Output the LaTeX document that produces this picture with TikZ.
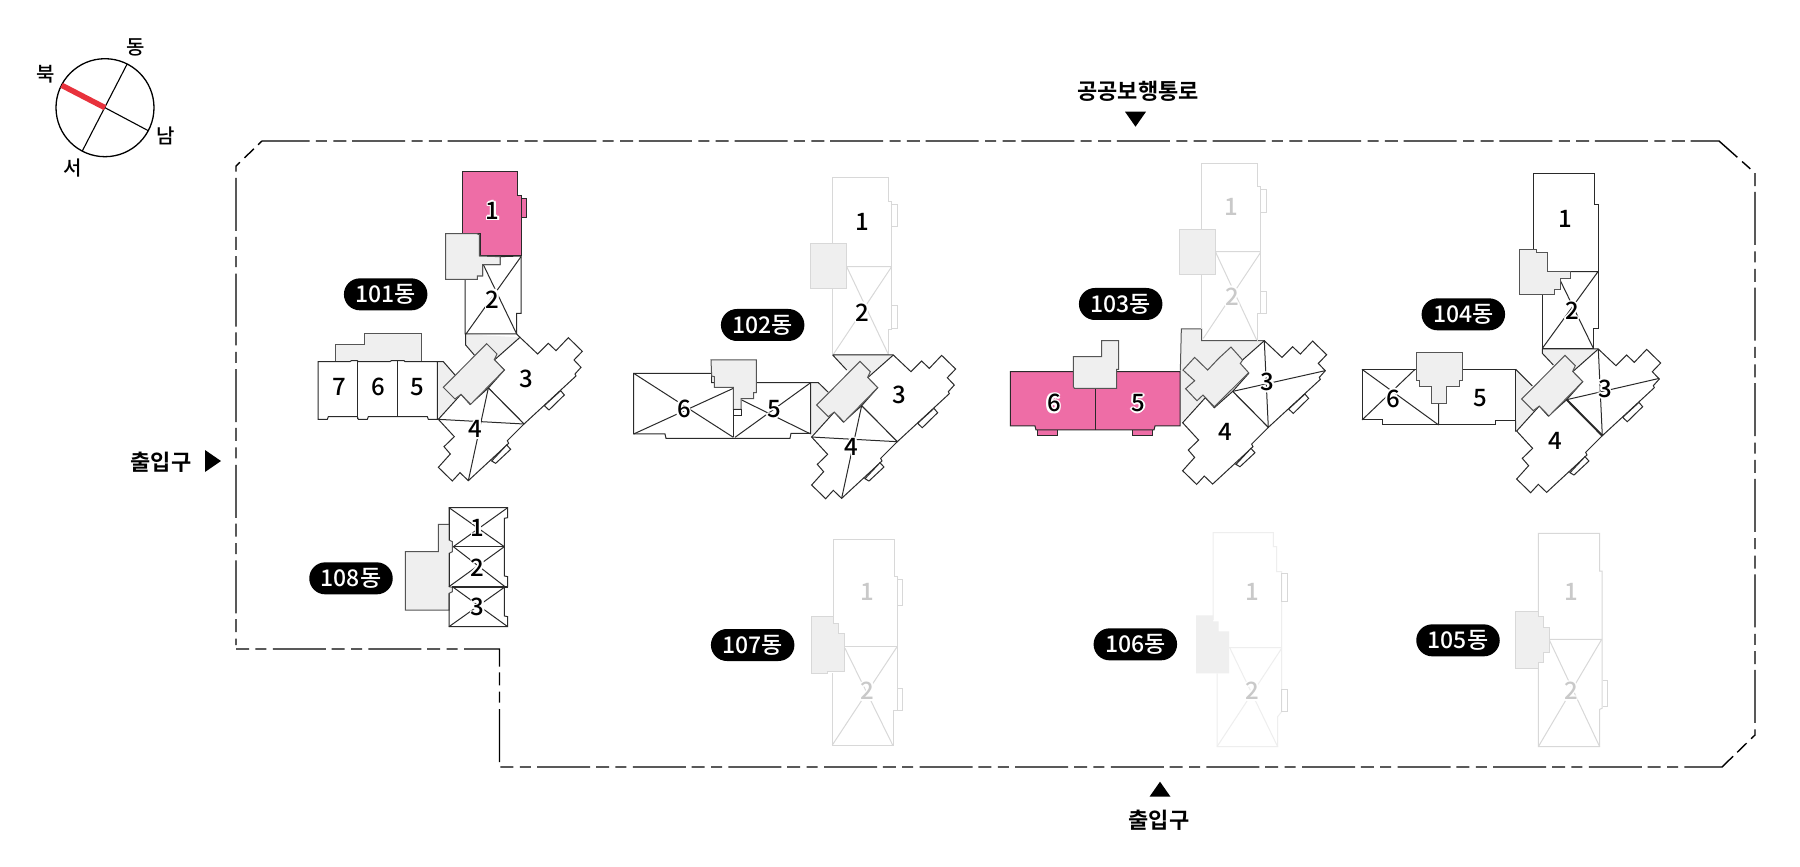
\documentclass[tikz,border=0pt]{standalone}
\usepackage{fontspec}
\newfontfamily\kr{Noto Sans CJK KR Medium}
\newfontfamily\krb{Noto Sans CJK KR Bold}
\definecolor{dkc}{HTML}{2A2A2A}
\definecolor{ltc}{HTML}{D8D8D8}
\definecolor{vlc}{HTML}{EEEEEE}
\definecolor{coreg}{HTML}{EFEFEF}
\definecolor{coreo}{HTML}{555555}
\definecolor{pinkb}{HTML}{EE6DA6}
\definecolor{numg}{HTML}{C9C9C9}
\definecolor{redn}{HTML}{E8323C}
\newcommand\ofs[3]{\rlap{\kern#1pt\raisebox{#2pt}{\color{white}#3}}}
\newcommand\halo[1]{\leavevmode\ofs{1.6}{0}{#1}\ofs{-1.6}{0}{#1}\ofs{0}{1.6}{#1}\ofs{0}{-1.6}{#1}\ofs{1.2}{1.2}{#1}\ofs{-1.2}{1.2}{#1}\ofs{1.2}{-1.2}{#1}\ofs{-1.2}{-1.2}{#1}#1}
\tikzset{
 dk/.style={draw=dkc,line width=1pt},
 lt/.style={draw=ltc,line width=1pt},
 vl/.style={draw=vlc,line width=1pt},
 coregray/.style={fill=coreg,draw=coreo,line width=1pt},
 coreltg/.style={fill=coreg,draw=ltc,line width=1pt},
 gr/.style={fill=coreg},
 numb/.style={inner sep=0pt,text=black,font=\kr\fontsize{24}{24}\selectfont},
 numl/.style={numb,text=numg},
 pill/.style={fill=black,text=white,rounded corners=16pt,minimum width=83.5pt,minimum height=32pt,inner sep=0pt,font=\kr\fontsize{23}{23}\selectfont},
 lab/.style={inner sep=0pt,text=black,font=\krb\fontsize{22}{22}\selectfont},
 comp/.style={inner sep=0pt,text=black,font=\kr\fontsize{20}{20}\selectfont},
 bound/.style={draw=black,line width=1.4pt,dash pattern=on 13pt off 6.4pt on 11pt off 6.4pt on 53pt off 5.8pt},
}
\newcommand\wingsA{%
 \draw[dk,fill=white] (660,562)--(713,612)--(745,580)--(768,602)--(805,563)--(847,604)--(822,630)--(843,652)--(825,672)--(828,678)--(672,822)--(565,714)--(613,660)--(583,630)--cycle;
 \draw[dk,fill=white] (733,767)--(782,722)--(793,735)--(747,780)--cycle;
 \draw[dk,fill=white] (415,808)--(483,733)--(510,763)--(565,714)--(672,822)--(622,872)--(626,880)--(505,992)--(480,968)--(457,993)--(415,952)--(451,912)--(432,890)--(463,860)--cycle;
 \draw[dk,fill=white] (575,933)--(620,885)--(632,898)--(587,940)--cycle;
}
\newcommand\coreA{\draw[coregray] (560,581)--(591,612)--(583,629)--(613,660)--(512,763)--(483,733)--(465,747)--(430,712)--cycle;}
\begin{document}
\begin{tikzpicture}[x=1pt,y=-1pt]
\useasboundingbox (0,0) rectangle (1800,867);
\fill[white] (0,0) rectangle (1800,867);
% compass
\draw[line width=1.3pt] (105,107.7) circle (49);
\draw[line width=1.1pt] (127,64.3)--(82.3,151);
\draw[line width=1.1pt] (105,107.7)--(148.3,130.7);
\draw[redn,line width=5.5pt] (61.7,85.3)--(105,107.7);
\node[comp] (cE) at (136,47) {동};
\node[comp] (cN) at (45.7,74) {북};
\node[comp] (cS) at (165.7,136) {남};
\node[comp] (cW) at (72.7,168) {서};
% boundary
\draw[bound] (236,649)--(499.5,649)--(499.5,767)--(1722,767)--(1755,735)--(1755,173)--(1719,141)--(262,141)--(236,166)--(236,645);
\fill (1125,111.7)--(1146,111.7)--(1135.5,126.7)--cycle;
\fill (1149.5,796.7)--(1170.5,796.7)--(1160,781.7)--cycle;
\fill (205,450)--(221,461)--(205,472)--cycle;
\node[lab] (t1) at (1138,91) {공공보행통로};
\node[lab] (t2) at (1159,820) {출입구};
\node[lab] (t3) at (161,462) {출입구};
%
% 101
\begin{scope}[shift={(300,150)},scale=0.33333]
 \fill[gr] (497,553)--(660,562)--(590,640)--(540,640)--(497,585)--cycle;
 \fill[gr] (413,635)--(430,635)--(470,680)--(470,760)--(415,808)--cycle;
 \draw[coregray] (106,635)--(106,585)--(193,585)--(193,550)--(365,550)--(365,635);
 \draw[dk,fill=white] (495,388)--(495,552)--(650,552)--(650,490)--(663,490)--(663,318)--(600,320)--(600,344)--(548,344)--(548,378)--(532,378)--(532,388)--cycle;
 \draw[dk] (663,320)--(498,552) (550,344)--(650,552);
 \draw[dk] (497,552)--(497,585)--(523,615) (650,552)--(660,562);
 \draw[dk,fill=pinkb] (663,145)--(680,145)--(680,203)--(663,203)--cycle;
 \draw[dk,fill=pinkb] (488,63)--(651,63)--(651,135)--(663,135)--(663,318)--(540,318)--(540,250)--(488,250)--cycle;
 \draw[coregray] (437,251)--(530,251)--(538,254)--(538,318)--(600,320)--(600,344)--(548,344)--(548,378)--(532,378)--(532,388)--(437,388)--cycle;
 \draw[dk,fill=white] (54,635)--(150,635)--(154,632)--(172,632)--(175,635)--(270,635)--(274,632)--(293,632)--(312,632)--(315,635)--(412,635)--(412,808)--(385,808)--(382,800)--(205,800)--(202,808)--(175,808)--(172,800)--(85,800)--(82,808)--(54,808)--cycle;
 \draw[dk] (173,632)--(173,808) (293,632)--(293,800);
 \draw[dk] (412,635)--(430,635)--(465,675) (412,808)--(415,808);
 \wingsA
 \draw[dk] (415,808)--(672,822) (565,714)--(505,992);
 \coreA
 \node[numb] (a1) at (578,182) {\halo{1}};
 \node[numb] (a2) at (578,448) {\halo{2}};
 \node[numb] (a3) at (680,688) {\halo{3}};
 \node[numb] (a4) at (527,838) {\halo{4}};
 \node[numb] (a5) at (353,712) {\halo{5}};
 \node[numb] (a6) at (235,712) {\halo{6}};
 \node[numb] (a7) at (117,712) {\halo{7}};
 \node[pill] (pa) at (257,433) {101동};
\end{scope}
% 102 upper + left
\begin{scope}[shift={(620,160)},scale=0.33333]
 \fill[gr] (638,585)--(820,585)--(745,660)--(690,640)--cycle;
 \fill[gr] (572,668)--(595,668)--(630,700)--(640,770)--(572,828)--cycle;
 \draw[lt,fill=white] (638,52)--(805,52)--(805,125)--(815,125)--(815,510)--(805,510)--(805,583)--(638,583)--cycle;
 \draw[lt] (815,132)--(833,132)--(833,200)--(815,200) (815,437)--(833,437)--(833,505)--(815,505);
 \draw[lt] (680,320)--(815,320) (815,320)--(640,583) (680,320)--(805,583);
 \draw[coreltg] (572,250) rectangle (680,386);
 \draw[dk] (638,585)--(820,585) (638,585)--(680,630);
 \draw[dk,fill=white] (41,640)--(275,640)--(275,668)--(572,668)--(572,820)--(513,820)--(510,835)--(138,835)--(135,822)--(41,822)--cycle;
 \draw[dk] (340,685)--(340,832);
 \draw[dk] (41,640)--(340,832) (41,822)--(340,685) (572,668)--(345,832) (572,822)--(365,720);
 \draw[dk] (572,668)--(595,668)--(625,697);
 \draw[coregray] (273,600)--(409,600)--(409,698)--(401,698)--(401,716)--(363,716)--(363,748)--(340,748)--(340,682)--(283,682)--(283,650)--(275,648)--cycle;
 \draw[dk,fill=white] (340,748) rectangle (363,768);
 \node[numb] (b1) at (727,187) {\halo{1}};
 \node[numb] (b2) at (727,457) {\halo{2}};
 \node[numb] (b5) at (463,748) {\halo{5}};
 \node[numb] (b6) at (192,748) {\halo{6}};
 \node[pill] (pb) at (428,495) {102동};
\end{scope}
\begin{scope}[shift={(673.3,167.7)},scale=0.33333]
 \wingsA
 \draw[dk] (415,808)--(672,822) (565,714)--(505,992);
 \coreA
 \node[numb] (b3) at (678,681) {\halo{3}};
 \node[numb] (b4) at (535,839) {\halo{4}};
\end{scope}
% 103
\begin{scope}[shift={(1000,150)},scale=0.33333]
 \fill[gr] (541,662)--(544,537)--(605,537)--(605,572)--(793,572)--(541,818)--cycle;
 \draw[coreo,line width=1pt] (541,662)--(544,537)--(605,537)--(605,572)--(793,572);
 \draw[lt] (605,537)--(605,40)--(773,40)--(773,110)--(782,110)--(782,492)--(772,492)--(772,572);
 \draw[lt] (782,118)--(798,118)--(798,187)--(782,187) (782,425)--(798,425)--(798,490)--(782,490);
 \draw[lt] (647,305)--(782,305) (782,307)--(610,565) (647,307)--(770,570);
 \draw[coreltg] (538,237) rectangle (647,373);
 \draw[dk,fill=pinkb] (112,840)--(173,840)--(173,857)--(112,857)--cycle;
 \draw[dk,fill=pinkb] (397,840)--(458,840)--(458,857)--(397,857)--cycle;
 \draw[dk,fill=pinkb] (31,665)--(540,665)--(540,828)--(465,828)--(462,840)--(108,840)--(105,828)--(31,828)--cycle;
 \draw[dk] (285,715)--(285,840);
 \draw[coregray] (220,620)--(305,620)--(305,572)--(356,572)--(356,658)--(350,658)--(350,715)--(223,715)--(220,710)--cycle;
\end{scope}
\begin{scope}[shift={(1044.3,153.4)},scale=0.33333]
 \wingsA
 \draw[dk] (660,562)--(672,822) (842,652)--(565,714);
 \draw[coregray] (560,581)--(595,620)--(588,630)--(613,658)--(510,760)--(476,725)--(458,742)--(424,706)--(451,682)--(416,650)--(451,612)--(490,650)--(523,615)--cycle;
\end{scope}
\begin{scope}[shift={(1000,150)},scale=0.33333]
 \node[numl] (c1) at (693,170) {\halo{1}};
 \node[numl] (c2) at (697,440) {\halo{2}};
 \node[numb] (c3) at (803,697) {\halo{3}};
 \node[numb] (c4) at (675,847) {\halo{4}};
 \node[numb] (c5) at (415,760) {\halo{5}};
 \node[numb] (c6) at (162,760) {\halo{6}};
 \node[pill] (pc) at (362,462) {103동};
\end{scope}
% 104
\begin{scope}[shift={(1350,150)},scale=0.33333]
 \fill[gr] (577,597)--(745,597)--(672,670)--(645,615)--(610,645)--(577,610)--cycle;
 \fill[gr] (497,658)--(545,708)--(515,745)--(555,787)--(497,845)--cycle;
 \draw[dk,fill=white] (551,70)--(733,70)--(733,162)--(744,162)--(744,535)--(730,535)--(730,597)--(577,597)--(577,433)--(509,433)--(509,297)--(551,297)--cycle;
 \draw[dk] (593,365)--(744,365) (744,365)--(577,595) (630,390)--(730,595);
 \draw[dk] (577,597)--(745,597) (577,597)--(577,610)--(610,645);
 \draw[dk,fill=white] (36,658)--(497,658)--(497,812)--(437,812)--(437,825)--(97,825)--(97,810)--(36,810)--cycle;
 \draw[dk] (266,762)--(266,825) (36,658)--(266,825) (36,810)--(195,658);
 \draw[dk] (497,658)--(547,708) (497,812)--(497,845);
 \draw[coregray] (199,608)--(336,608)--(336,693)--(327,693)--(327,710)--(290,710)--(290,760)--(243,760)--(243,710)--(207,710)--(207,693)--(199,693)--cycle;
 \draw[coregray] (509,297)--(558,297)--(558,307)--(593,307)--(593,365)--(660,365)--(660,387)--(630,387)--(630,420)--(612,420)--(612,433)--(509,433)--cycle;
\end{scope}
\begin{scope}[shift={(1378.3,161.7)},scale=0.33333]
 \wingsA
 \draw[dk] (660,562)--(672,822) (843,650)--(565,714);
 \draw[draw=dkc,line width=2pt] (565,714)--(672,822);
 \coreA
\end{scope}
\begin{scope}[shift={(1350,150)},scale=0.33333]
 \node[numb] (d1) at (645,207) {\halo{1}};
 \node[numb] (d2) at (667,483) {\halo{2}};
 \node[numb] (d3) at (765,717) {\halo{3}};
 \node[numb] (d4) at (616,873) {\halo{4}};
 \node[numb] (d5) at (392,745) {\halo{5}};
 \node[numb] (d6) at (130,747) {\halo{6}};
 \node[pill] (pd) at (340,493) {104동};
\end{scope}
% 108
\begin{scope}[shift={(290,490)},scale=0.33333]
 \draw[coregray] (477,360)--(346,360)--(346,185)--(445,185)--(445,103)--(477,103)--(477,150)--(487,155)--(487,185)--(477,190)--(477,290)--(487,292)--(487,305)--(477,310)--cycle;
 \draw[dk] (477,103)--(477,53)--(653,53)--(653,83)--(643,85)--(643,258)--(653,260)--(653,290)--(643,290)--(643,378)--(653,380)--(653,410)--(477,410)--(477,310);
 \draw[dk] (477,190)--(477,290) (477,53)--(477,150);
 \draw[dk,line width=1.4pt] (490,170)--(643,170) (487,291)--(653,291);
 \draw[dk] (477,53)--(643,170) (653,53)--(490,170) (490,170)--(645,290) (643,170)--(477,290) (490,292)--(653,410) (643,292)--(477,410);
 \node[numb] (h1) at (563,115) {\halo{1}};
 \node[numb] (h2) at (563,232) {\halo{2}};
 \node[numb] (h3) at (563,352) {\halo{3}};
 \node[pill] (ph) at (183,265) {108동};
\end{scope}
% 107
\begin{scope}[shift={(700,520)},scale=0.33333]
 \draw[lt] (400,290)--(400,58)--(584,58)--(584,170)--(592,170)--(592,570)--(580,570)--(580,675)--(397,675)--(397,460);
 \draw[lt] (592,178)--(608,178)--(608,257)--(592,257) (592,505)--(608,505)--(608,570)--(592,570);
 \draw[lt,line width=1.4pt] (433,380)--(592,380);
 \draw[lt] (590,382)--(397,675) (435,385)--(578,675);
 \draw[coreltg] (333,290)--(400,290)--(400,310)--(415,310)--(415,340)--(433,340)--(433,455)--(382,455)--(382,460)--(333,460)--cycle;
 \node[numl] (g1) at (503,217) {\halo{1}};
 \node[numl] (g2) at (503,513) {\halo{2}};
 \node[pill] (pg) at (158,375) {107동};
\end{scope}
% 106
\begin{scope}[shift={(1090,520)},scale=0.33333]
 \draw[vl] (369,300)--(369,38)--(550,38)--(550,80)--(560,80)--(560,155)--(575,155)--(575,575)--(563,590)--(563,680)--(381,680)--(381,460);
 \draw[ltc,line width=1pt] (575,160)--(591,160)--(591,243)--(575,243)--cycle (575,508)--(591,508)--(591,575)--(575,575)--cycle;
 \draw[vl] (417,383)--(575,383) (575,385)--(381,680) (420,385)--(563,680);
 \fill[coreg] (318,286)--(369,286)--(369,304)--(386,304)--(386,334)--(417,334)--(417,460)--(318,460)--cycle;
 \node[numl] (f1) at (487,217) {\halo{1}};
 \node[numl] (f2) at (487,513) {\halo{2}};
 \node[pill] (pf) at (136,373) {106동};
\end{scope}
% 105
\begin{scope}[shift={(1410,520)},scale=0.33333]
 \draw[lt] (385,273)--(385,40)--(569,40)--(569,153)--(576,153)--(576,565)--(569,568)--(569,680)--(385,680)--(385,445);
 \draw[lt] (578,481)--(593,481)--(593,560)--(578,560);
 \draw[lt] (418,358)--(576,358) (574,360)--(385,680) (418,360)--(569,680);
 \draw[coreltg] (317,273)--(385,273)--(385,290)--(401,290)--(401,322)--(417,322)--(417,398)--(401,398)--(401,428)--(385,428)--(385,445)--(317,445)--cycle;
 \node[numl] (e1) at (483,217) {\halo{1}};
 \node[numl] (e2) at (483,513) {\halo{2}};
 \node[pill] (pe) at (144,361) {105동};
\end{scope}
\end{tikzpicture}
\end{document}
